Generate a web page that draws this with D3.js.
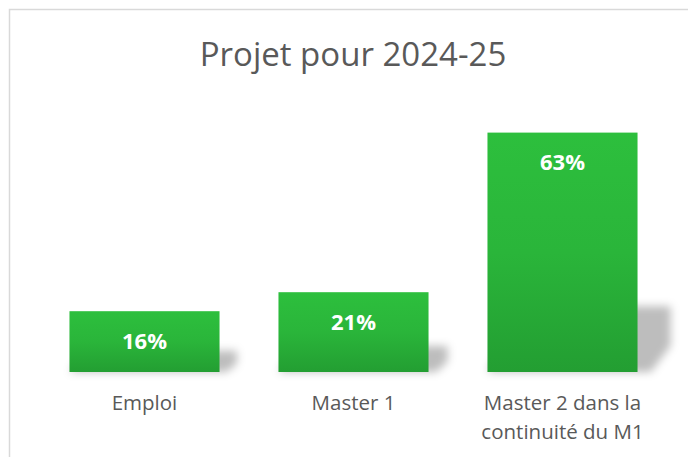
<!DOCTYPE html>
<meta charset="utf-8">
<html>
<head>
<script src="https://d3js.org/d3.v7.min.js"></script>
<style>
  body { margin: 0; background: #fff; }
  text { font-family: "Open Sans", sans-serif; }
</style>
</head>
<body>
<svg width="688" height="457"></svg>
<script>

var categories = ["Emploi", "Master 1", "Master 2 dans la continuité du M1"];
var categoryLines = [["Emploi"], ["Master 1"], ["Master 2 dans la", "continuité du M1"]];
var values = [0.16, 0.21, 0.63];
var title = "Projet pour 2024-25";

var svg = d3.select("svg"),
    width = +svg.attr("width"),
    height = +svg.attr("height");

var defs = svg.append("defs");

var grad = defs.append("linearGradient")
    .attr("id", "barFill")
    .attr("x1", 0).attr("y1", 0).attr("x2", 0).attr("y2", 1);
grad.append("stop").attr("offset", "0%").attr("stop-color", "#2dbf3d");
grad.append("stop").attr("offset", "50%").attr("stop-color", "#2ab53a");
grad.append("stop").attr("offset", "100%").attr("stop-color", "#239e32");

defs.append("filter")
    .attr("id", "blur")
    .attr("x", "-50%").attr("y", "-50%").attr("width", "200%").attr("height", "200%")
  .append("feGaussianBlur")
    .attr("stdDeviation", 4);

// chart frame (top and left edges visible)
svg.append("path")
    .attr("d", "M9.5," + height + "V9.5H" + width)
    .attr("fill", "none")
    .attr("stroke", "#d9d9d9")
    .attr("stroke-width", 1.5);

svg.append("text")
    .attr("x", 353)
    .attr("y", 66)
    .attr("text-anchor", "middle")
    .attr("font-size", 33)
    .attr("fill", "#595959")
    .text(title);

var x = d3.scaleBand()
    .domain(categories)
    .range([40, 667])
    .paddingInner(0.282)
    .paddingOuter(0.141);

var y = d3.scaleLinear()
    .domain([0, 0.7])
    .range([372, 106]);

var data = categories.map(function(c, i) { return {cat: c, value: values[i], lines: categoryLines[i]}; });

// perspective shadows
svg.append("g")
  .selectAll("path")
  .data(data)
  .join("path")
    .attr("filter", "url(#blur)")
    .attr("fill", "#000")
    .attr("fill-opacity", 0.26)
    .attr("d", function(d) {
      var x0 = x(d.cat), x1 = x0 + x.bandwidth(), b = y(0);
      var h = (y(0) - y(d.value)) * 0.25 + 6;
      var dx = h * 0.35 + 10;
      return "M" + x0 + "," + b + "L" + (x1 + dx * 0.4) + "," + b +
             "L" + (x1 + dx) + "," + (b - h * 0.4) +
             "L" + (x1 + dx) + "," + (b - h) +
             "L" + (x0 + dx) + "," + (b - h) + "Z";
    });

svg.append("g")
  .selectAll("rect")
  .data(data)
  .join("rect")
    .attr("x", function(d) { return x(d.cat); })
    .attr("y", function(d) { return y(d.value); })
    .attr("width", x.bandwidth())
    .attr("height", function(d) { return y(0) - y(d.value); })
    .attr("fill", "url(#barFill)");

svg.append("g")
  .selectAll("text")
  .data(data)
  .join("text")
    .attr("x", function(d) { return x(d.cat) + x.bandwidth() / 2; })
    .attr("y", function(d) { return y(d.value) + 30; })
    .attr("dy", "0.35em")
    .attr("text-anchor", "middle")
    .attr("font-size", 22)
    .attr("font-weight", "bold")
    .attr("fill", "#fff")
    .text(function(d) { return Math.round(d.value * 100) + "%"; });

var labels = svg.append("g")
  .selectAll("text")
  .data(data)
  .join("text")
    .attr("x", function(d) { return x(d.cat) + x.bandwidth() / 2; })
    .attr("y", 410)
    .attr("text-anchor", "middle")
    .attr("font-size", 20.5)
    .attr("fill", "#595959");

labels.selectAll("tspan")
  .data(function(d) { return d.lines.map(function(l) { return {line: l, cx: x(d.cat) + x.bandwidth() / 2}; }); })
  .join("tspan")
    .attr("x", function(d) { return d.cx; })
    .attr("dy", function(d, i) { return i ? 29 : 0; })
    .text(function(d) { return d.line; });

</script>
</body>
</html>
